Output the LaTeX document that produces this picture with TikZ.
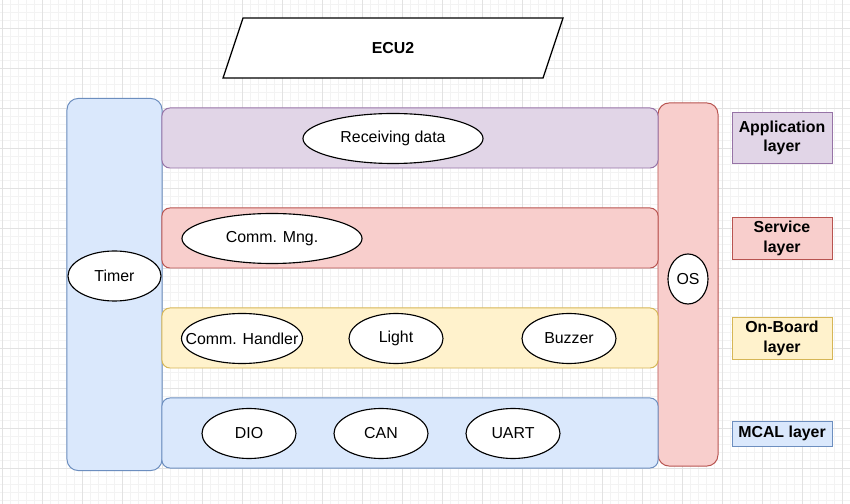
\documentclass[tikz,border=0pt]{standalone}
\usepackage{fontspec}
\setmainfont{Liberation Sans}
\usetikzlibrary{shapes.geometric}

\definecolor{bluefill}{HTML}{DAE8FC}\definecolor{blueline}{HTML}{6C8EBF}
\definecolor{purplefill}{HTML}{E1D5E7}\definecolor{purpleline}{HTML}{9673A6}
\definecolor{redfill}{HTML}{F8CECC}\definecolor{redline}{HTML}{B85450}
\definecolor{yellowfill}{HTML}{FFF2CC}\definecolor{yellowline}{HTML}{D6B656}
\definecolor{gridmajor}{HTML}{E2E2E2}\definecolor{gridminor}{HTML}{F3F3F3}

\tikzset{
  txt/.style={font=\fontsize{11.3}{14}\selectfont},
  band/.style={draw=#1line,fill=#1fill,rounded corners=0.2cm,minimum width=12.4cm,
    minimum height=1.5cm,inner sep=0pt,line width=0.7pt},
  pillar/.style={draw=#1line,fill=#1fill,rounded corners=0.28cm,inner sep=0pt,line width=0.7pt},
  tag/.style={draw=#1line,fill=#1fill,minimum width=2.5cm,inner sep=0pt,align=center,
    line width=0.7pt,txt,font=\bfseries\fontsize{11.3}{14}\selectfont},
  blob/.style={ellipse,draw,fill=white,minimum height=1.25cm,inner sep=0pt,line width=0.8pt,txt}
}

\begin{document}
\begin{tikzpicture}[x=0.025cm,y=-0.025cm]

	\useasboundingbox[fill=white] (0,0) rectangle (850,504);
	\foreach \gx in {2,10,...,850} \draw[gridminor,line width=0.6pt] (\gx,0) -- (\gx,504);
	\foreach \gy in {4,12,...,504} \draw[gridminor,line width=0.6pt] (0,\gy) -- (850,\gy);
	\foreach \gx in {2,42,...,850} \draw[gridmajor,line width=0.7pt] (\gx,0) -- (\gx,504);
	\foreach \gy in {28,68,...,504} \draw[gridmajor,line width=0.7pt] (0,\gy) -- (850,\gy);

	% ECU
	\draw[fill=white,line width=0.9pt] (223,78) -- (243,18) -- (563,18) -- (543,78) -- cycle;
	\node[txt,font=\bfseries\fontsize{11.3}{14}\selectfont] (ecu) at (393,48) {ECU2};

	% side pillars
	\node[pillar=blue,minimum width=2.375cm,minimum height=9.3cm] (timerbox) at (114.5,284.5) {};
	\node[pillar=red,minimum width=1.5cm,minimum height=9.075cm] (osbox) at (688,284.5) {};

	% layers
	\node[band=purple] (applayer)   at (410,138) {};
	\node[band=red]    (servlayer)  at (410,238) {};
	\node[band=yellow] (boardlayer) at (410,338) {};
	\node[band=blue,minimum height=1.75cm] (mcallayer) at (410,433) {};

	\node[blob,minimum width=2.325cm] (timer) at (114.5,276) {Timer};
	\node[blob,minimum width=1cm] (os) at (688,279) {OS};

	\node[blob,minimum width=4.5cm] (recv)    at (393,138.5) {Receiving data};
	\node[blob,minimum width=4.5cm] (commmng) at (272,238.5) {Comm. Mng.};

	\node[blob,minimum width=3cm,inner xsep=-0.34cm] (commhdl) at (242,338.5) {Comm. Handler};
	\node[blob,minimum width=2.35cm] (light)   at (396,338.5) {Light};
	\node[blob,minimum width=2.35cm] (buzzer)  at (569,338.5) {Buzzer};

	\node[blob,minimum width=2.35cm] (dio)  at (249,433.5) {DIO};
	\node[blob,minimum width=2.35cm] (can)  at (381,433.5) {CAN};
	\node[blob,minimum width=2.35cm] (uart) at (513,433.5) {UART};

	% legend
	\node[tag=purple,minimum height=1.25cm]  (apptag)   at (782,138) {Application\\layer};
	\node[tag=red,minimum height=1.05cm]     (servtag)  at (782,238.5) {Service\\layer};
	\node[tag=yellow,minimum height=1.05cm]  (boardtag) at (782,338.5) {On-Board\\layer};
	\node[tag=blue,minimum height=0.625cm]   (mcaltag)  at (782,433.5) {MCAL layer};

\end{tikzpicture}
\end{document}
